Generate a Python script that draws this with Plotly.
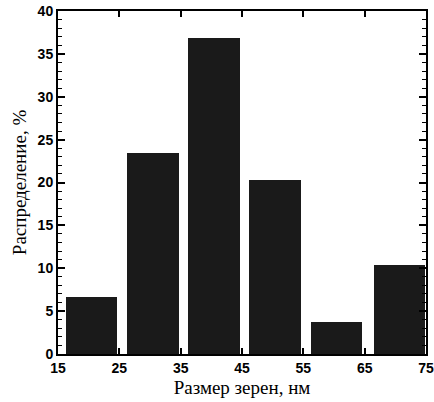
import plotly.graph_objects as go

centers = [20.5, 30.5, 40.4, 50.4, 60.4, 70.7]
values = [6.7, 23.4, 36.9, 20.3, 3.7, 10.4]
bar_width = 8.4
x_ticks = [15, 25, 35, 45, 55, 65, 75]
y_ticks = [0, 5, 10, 15, 20, 25, 30, 35, 40]

fig = go.Figure()
fig.add_trace(go.Bar(x=centers, y=values, width=bar_width,
                     marker=dict(color="#1a1a1a", line=dict(width=0))))

fig.update_layout(
    width=434, height=402,
    margin=dict(l=58, r=8, t=11, b=48),
    plot_bgcolor="white", paper_bgcolor="white",
    showlegend=False,
    bargap=0,
)
fig.update_xaxes(
    range=[15, 75], tickvals=x_ticks, ticktext=[str(t) for t in x_ticks],
    ticks="inside", ticklen=6, tickwidth=1.5, tickcolor="black",
    showline=True, linecolor="black", linewidth=2, mirror="ticks",
    showgrid=False, zeroline=False, automargin=False,
    tickfont=dict(family="Liberation Sans", size=14, color="black", weight="bold"),
    title=dict(text="Размер зерен, нм", font=dict(family="Liberation Serif", size=19, color="black"), standoff=6),
)
fig.update_yaxes(
    range=[0, 40], tickvals=y_ticks, ticktext=[str(t) for t in y_ticks],
    ticks="inside", ticklen=7, tickwidth=1.5, tickcolor="black",
    minor=dict(dtick=1, ticks="inside", ticklen=4, tickcolor="black", tickwidth=1),
    showline=True, linecolor="black", linewidth=2, mirror="ticks",
    showgrid=False, zeroline=False, automargin=False,
    tickfont=dict(family="Liberation Sans", size=14, color="black", weight="bold"),
    title=dict(text="Распределение, %", font=dict(family="Liberation Serif", size=19, color="black"), standoff=6),
)
fig.write_html("out.html", config={"displayModeBar": False},
               post_script="document.body.style.margin='0';")
